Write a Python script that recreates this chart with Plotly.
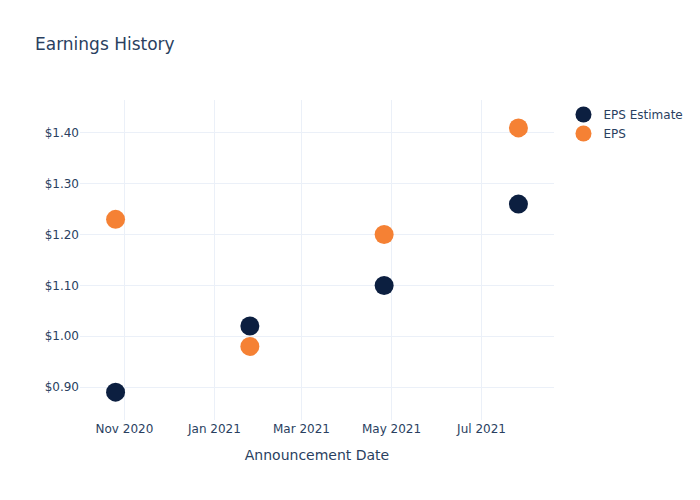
import plotly.graph_objects as go

dates = ["2020-10-26", "2021-01-25", "2021-04-26", "2021-07-26"]
eps_estimate = [0.89, 1.02, 1.10, 1.26]
eps_actual = [1.23, 0.98, 1.20, 1.41]

fig = go.Figure()
fig.add_trace(go.Scatter(x=dates, y=eps_estimate, mode="markers", name="EPS Estimate",
                         marker=dict(color="#0c1f40", size=19)))
fig.add_trace(go.Scatter(x=dates, y=eps_actual, mode="markers", name="EPS",
                         marker=dict(color="#f58134", size=19)))
fig.update_layout(
    template="plotly_white",
    width=700, height=500,
    font=dict(family="DejaVu Sans"),
    title=dict(text="Earnings History"),
    xaxis=dict(title=dict(text="Announcement Date")),
    yaxis=dict(tickprefix="$", tickformat=".2f"),
)
fig.write_html("out.html")
